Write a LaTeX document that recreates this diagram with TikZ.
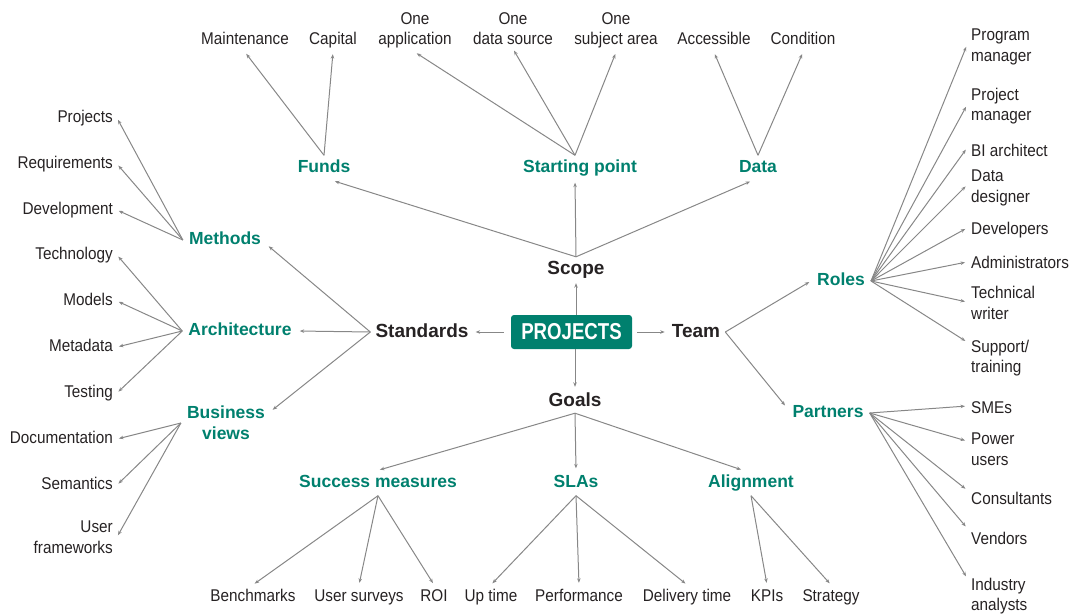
\documentclass[tikz,border=0pt]{standalone}
\usepackage{fontspec}
\usetikzlibrary{arrows.meta}
\setmainfont{Liberation Sans}
\newfontfamily\leaffamily[FakeStretch=0.9]{Liberation Sans}
\newfontfamily\rootfamily[FakeStretch=0.81]{Liberation Sans}
\definecolor{projteal}{RGB}{0,128,110}
\definecolor{linegrey}{RGB}{135,135,135}
\definecolor{leafgrey}{RGB}{38,34,35}
\newcommand{\leaffont}{\leaffamily\fontsize{17}{20.5}\selectfont}
\newcommand{\hubfont}{\bfseries\fontsize{17.5}{21}\selectfont}
\newcommand{\midfont}{\bfseries\fontsize{19}{22}\selectfont}
\newcommand{\rootfont}{\rootfamily\bfseries\fontsize{23}{26}\selectfont}

\begin{document}
\begin{tikzpicture}[x=1pt, y=-1pt,
		leaf/.style={font=\leaffont, text=leafgrey, inner sep=4pt},
		word/.style={leaf, text height=12pt, text depth=4pt},
		hub/.style={font=\hubfont, text=projteal, inner xsep=6pt, inner ysep=4pt, align=center},
		hubword/.style={hub, text height=13pt, text depth=4pt},
		mid/.style={font=\midfont, text=leafgrey, inner xsep=5pt, inner ysep=3pt, text height=14pt, text depth=4pt},
		root/.style={fill=projteal, text=white, rounded corners=3pt, minimum width=121pt, minimum height=34pt, inner sep=0pt, font=\rootfont},
		link/.style={draw=linegrey, line width=1pt, -{Stealth[length=4.5pt,width=3.5pt]}, shorten >=2pt}]
		\useasboundingbox (0,0) rectangle (1070,613);

		\node[root] (root) at (571.5,332) {PROJECTS};
		\node[mid] (scope) at (576,269) {Scope};
		\node[mid] (goals) at (575,401) {Goals};
		\node[mid] (standards) at (422,332) {Standards};
		\node[mid] (team) at (696,332) {Team};

		\draw[link] (scope.south |- root.north) -- (scope.south);
		\draw[link] (goals.north |- root.south) -- (goals.north);
		\draw[link, shorten <=7pt] (root.west) -- (standards.east);
		\draw[link, shorten <=5pt] (root.east) -- (team.west);

		\node[hubword] (funds) at (324,168) {Funds};
		\node[hubword] (start) at (580,168) {Starting point};
		\node[hubword] (data) at (758,168) {Data};
		\node[hubword] (methods) at (225,240) {Methods};
		\node[hubword] (arch) at (240,331) {Architecture};
		\node[hub] (views) at (226,423) {Business\\views};
		\node[hubword] (roles) at (841,281) {Roles};
		\node[hubword] (partners) at (828,413) {Partners};
		\node[hubword] (success) at (378,483) {Success measures};
		\node[hubword] (slas) at (576,483) {SLAs};
		\node[hubword] (align) at (751,483) {Alignment};

		\draw[link] (scope.north) -- ([xshift=9pt]funds.south);
		\draw[link] (scope.north) -- ([xshift=-5pt]start.south);
		\draw[link] (scope.north) -- ([xshift=-6pt]data.south);
		\draw[link] (standards.west) -- ([yshift=-5pt]methods.east);
		\draw[link] (standards.west) -- (arch.east);
		\draw[link] (standards.west) -- ([yshift=12pt]views.east);
		\draw[link] (team.east) -- (roles.west);
		\draw[link] (team.east) -- ([yshift=6pt]partners.west);
		\draw[link] (goals.south) -- (success.north);
		\draw[link] (goals.south) -- (slas.north);
		\draw[link] (goals.south) -- ([xshift=-8pt]align.north);

		\foreach \n/\x/\t in {tmain/245/Maintenance, tcap/333/Capital}{
			\node[word] (\n) at (\x,40) {\t};
			\draw[link] (funds.north) -- (\n.south);
		}
		\foreach \n/\x/\t in {tapp/415/application, tsrc/513/data source, tarea/616/subject area}{
			\node[leaf, align=center, anchor=base] (\n) at (\x,44.5) {One\\\t};
			\draw[link] ([xshift=-5pt]start.north) -- (\n.south);
		}
		\foreach \n/\x/\t in {tacc/714/Accessible, tcond/803/Condition}{
			\node[word] (\n) at (\x,40) {\t};
			\draw[link] (data.north) -- (\n.south);
		}

		\foreach \n/\y/\t in {lproj/118/Projects, lreq/164/Requirements, ldev/210/Development}{
			\node[word, anchor=east] (\n) at (117,\y) {\t};
			\draw[link] (methods.west) -- (\n.east);
		}
		\foreach \n/\y/\t in {ltech/255/Technology, lmod/301/Models, lmeta/347/Metadata, ltest/393/Testing}{
			\node[word, anchor=east] (\n) at (117,\y) {\t};
			\draw[link] (arch.west) -- (\n.east);
		}
		\foreach \n/\y/\t in {ldoc/439/Documentation, lsem/485/Semantics}{
			\node[word, anchor=east] (\n) at (117,\y) {\t};
			\draw[link] (views.west) -- (\n.east);
		}
		\node[leaf, anchor=east, align=right] (luser) at (117,537) {User\\frameworks};
		\draw[link] (views.west) -- (luser.east);

		\foreach \n/\y/\s/\t in {rprog/47/2/Program\\manager, rproj/106/1/Project\\manager, rdes/188/3/Data\\designer, rtech/303/1/Technical\\writer, rsup/358/16/Support\slash\\training}{
			\node[leaf, anchor=west, align=left] (\n) at (967,\y) {\t};
			\draw[link] (roles.east) -- ([yshift=\s pt]\n.west);
		}
		\foreach \n/\y/\s/\t in {rbi/152/4/BI architect, rdev/230/2/Developers, radm/264/2/Administrators}{
			\node[word, anchor=west] (\n) at (967,\y) {\t};
			\draw[link] (roles.east) -- ([yshift=\s pt]\n.west);
		}
		\foreach \n/\y/\s/\t in {ppow/449/8/Power\\users, pind/596/18/Industry\\analysts}{
			\node[leaf, anchor=west, align=left] (\n) at (967,\y) {\t};
			\draw[link] (partners.east) -- ([yshift=\s pt]\n.west);
		}
		\foreach \n/\y/\s/\t in {psme/409/3/SMEs, pcon/500/10/Consultants, pven/540/12/Vendors}{
			\node[word, anchor=west] (\n) at (967,\y) {\t};
			\draw[link] (partners.east) -- ([yshift=\s pt]\n.west);
		}

		\foreach \n/\x/\t in {bbench/253/Benchmarks, bsurv/359/User surveys, broi/434/ROI}{
			\node[word] (\n) at (\x,597) {\t};
			\draw[link] (success.south) -- (\n.north);
		}
		\foreach \n/\x/\t in {bup/491/Up time, bperf/579/Performance, bdel/687/Delivery time}{
			\node[word] (\n) at (\x,597) {\t};
			\draw[link] (slas.south) -- (\n.north);
		}
		\foreach \n/\x/\t in {bkpi/767/KPIs, bstrat/831/Strategy}{
			\node[word] (\n) at (\x,597) {\t};
			\draw[link] (align.south) -- (\n.north);
		}
	\end{tikzpicture}
\end{document}
